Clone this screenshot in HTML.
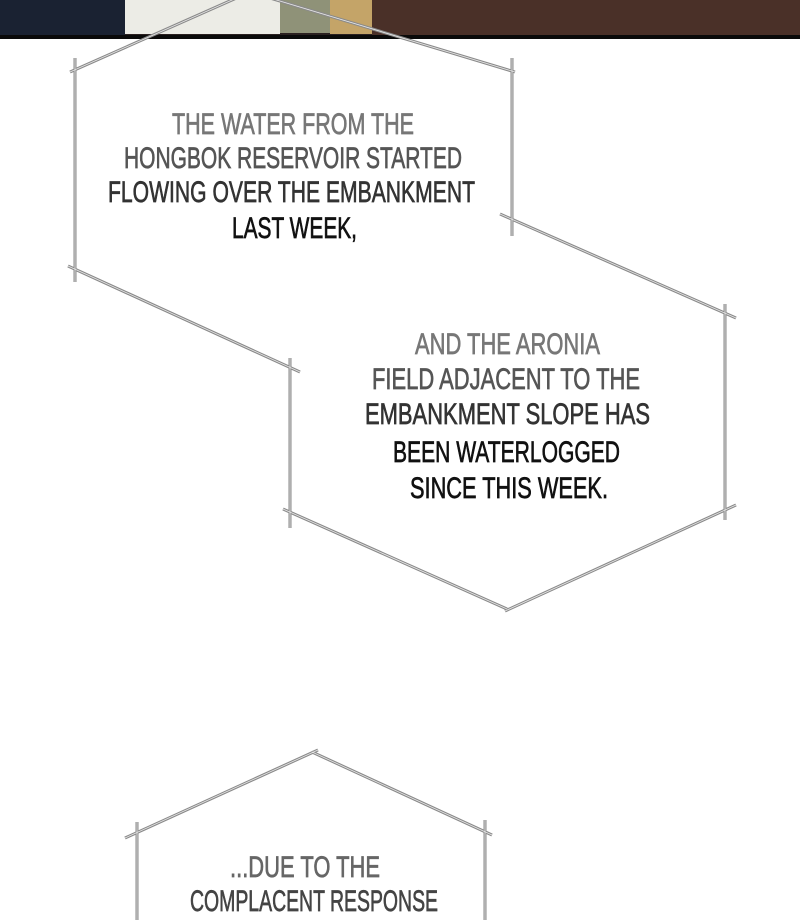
<!DOCTYPE html>
<html><head><style>
html,body{margin:0;padding:0;background:#fff;}
svg{display:block;}
text{font-family:"Liberation Sans",sans-serif;font-size:30px;}
</style></head><body>
<svg width="800" height="920" viewBox="0 0 800 920" xmlns="http://www.w3.org/2000/svg">
<rect x="0" y="0" width="800" height="38" fill="#2a2020"/>
<rect x="0" y="0" width="125" height="36" fill="#1a2232"/>
<rect x="125" y="0" width="155" height="34" fill="#ecece6"/>
<rect x="280" y="0" width="50" height="33" fill="#8f9278"/>
<rect x="330" y="0" width="42" height="34" fill="#c4a468"/>
<rect x="372" y="0" width="428" height="35" fill="#4a3028"/>
<rect x="0" y="35" width="800" height="4" fill="#0a0a0a"/>
<g fill="none" stroke="#8a8a8a" stroke-width="3">
<polyline points="75,58 75,282"/>
<line x1="70" y1="72" x2="250" y2="-8"/>
<line x1="250" y1="-8" x2="515" y2="72"/>
<polyline points="512,58 512,236"/>
<line x1="68" y1="266" x2="300" y2="372"/>
<line x1="500" y1="214" x2="736" y2="318"/>
<polyline points="725,304 725,520"/>
<polyline points="290,358 290,528"/>
<line x1="736" y1="505" x2="505" y2="611"/>
<line x1="507" y1="609" x2="283" y2="509"/>
<line x1="125" y1="838" x2="318" y2="750"/>
<line x1="312" y1="752" x2="492" y2="835"/>
<polyline points="137,822 137,920"/>
<polyline points="485,820 485,920"/>
</g>
<g fill="none" stroke="#fff" stroke-width="0.8" opacity="0.8">
<polyline points="75,58 75,282"/>
<line x1="70" y1="72" x2="250" y2="-8"/>
<line x1="250" y1="-8" x2="515" y2="72"/>
<polyline points="512,58 512,236"/>
<line x1="68" y1="266" x2="300" y2="372"/>
<line x1="500" y1="214" x2="736" y2="318"/>
<polyline points="725,304 725,520"/>
<polyline points="290,358 290,528"/>
<line x1="736" y1="505" x2="505" y2="611"/>
<line x1="507" y1="609" x2="283" y2="509"/>
<line x1="125" y1="838" x2="318" y2="750"/>
<line x1="312" y1="752" x2="492" y2="835"/>
<polyline points="137,822 137,920"/>
<polyline points="485,820 485,920"/>
</g>
<g stroke-width="0.7">
<text x="172" y="134" textLength="242" lengthAdjust="spacingAndGlyphs" fill="#777" stroke="#777">THE WATER FROM THE</text>
<text x="124" y="168" textLength="338" lengthAdjust="spacingAndGlyphs" fill="#555" stroke="#555">HONGBOK RESERVOIR STARTED</text>
<text x="108" y="202" textLength="367" lengthAdjust="spacingAndGlyphs" fill="#333" stroke="#333">FLOWING OVER THE EMBANKMENT</text>
<text x="232" y="238" textLength="125" lengthAdjust="spacingAndGlyphs" fill="#111" stroke="#111">LAST WEEK,</text>

<text x="415" y="354" textLength="185" lengthAdjust="spacingAndGlyphs" fill="#777" stroke="#777">AND THE ARONIA</text>
<text x="372" y="389" textLength="268" lengthAdjust="spacingAndGlyphs" fill="#555" stroke="#555">FIELD ADJACENT TO THE</text>
<text x="365" y="424" textLength="285" lengthAdjust="spacingAndGlyphs" fill="#333" stroke="#333">EMBANKMENT SLOPE HAS</text>
<text x="393" y="462" textLength="227" lengthAdjust="spacingAndGlyphs" fill="#111" stroke="#111">BEEN WATERLOGGED</text>
<text x="410" y="498" textLength="198" lengthAdjust="spacingAndGlyphs" fill="#111" stroke="#111">SINCE THIS WEEK.</text>

<text x="230" y="877" textLength="150" lengthAdjust="spacingAndGlyphs" fill="#666" stroke="#666">...DUE TO THE</text>
<text x="190" y="911" textLength="248" lengthAdjust="spacingAndGlyphs" fill="#444" stroke="#444">COMPLACENT RESPONSE</text>
</g>
</svg>
</body></html>
